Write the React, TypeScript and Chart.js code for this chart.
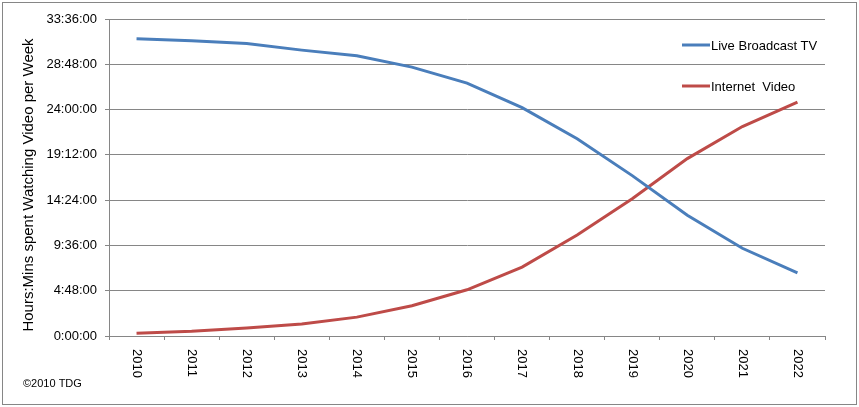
import * as React from 'react';
import { Chart, registerables } from 'chart.js';

Chart.register(...registerables);

const years = ['2010', '2011', '2012', '2013', '2014', '2015', '2016', '2017', '2018', '2019', '2020', '2021', '2022'];
// hours per week
const liveBroadcastTv = [31.5, 31.3, 31.0, 30.3, 29.7, 28.5, 26.8, 24.2, 20.9, 17.0, 12.8, 9.3, 6.7];
const internetVideo = [0.3, 0.5, 0.85, 1.27, 2.0, 3.2, 4.9, 7.3, 10.7, 14.55, 18.8, 22.2, 24.8];
const yTickValues = [0, 4.8, 9.6, 14.4, 19.2, 24, 28.8, 33.6];
const yTickLabels = ['0:00:00', '4:48:00', '9:36:00', '14:24:00', '19:12:00', '24:00:00', '28:48:00', '33:36:00'];
const yTitle = 'Hours:Mins spent Watching Video per Week';
const credit = '\u00a92010 TDG';

const FONT = '"Liberation Sans", Arial, sans-serif';
const GRID = '#868686';

const extras = {
    id: 'extras',
    afterDraw(chart: any) {
        const ctx = chart.ctx as CanvasRenderingContext2D;
        const xScale = chart.scales.x;
        ctx.save();
        // outer frame
        ctx.strokeStyle = GRID;
        ctx.lineWidth = 1;
        ctx.strokeRect(2.5, 2.5, 854, 402);

        // rotated year labels (reading top to bottom)
        ctx.fillStyle = '#000';
        ctx.font = `13px ${FONT}`;
        ctx.textAlign = 'left';
        ctx.textBaseline = 'middle';
        years.forEach((y, i) => {
            const x = xScale.getPixelForValue(i);
            ctx.save();
            ctx.translate(x, 349);
            ctx.rotate(Math.PI / 2);
            ctx.fillText(y, 0, 0);
            ctx.restore();
        });

        // y axis title
        ctx.save();
        ctx.font = `15px ${FONT}`;
        ctx.textAlign = 'center';
        ctx.translate(29, 185);
        ctx.rotate(-Math.PI / 2);
        ctx.fillText(yTitle, 0, 0);
        ctx.restore();

        // legend
        ctx.font = `13px ${FONT}`;
        chart.data.datasets.forEach((ds: any, i: number) => {
            const ly = 45 + i * 41;
            ctx.strokeStyle = ds.borderColor;
            ctx.lineWidth = 3;
            ctx.beginPath();
            ctx.moveTo(682, ly);
            ctx.lineTo(710, ly);
            ctx.stroke();
            ctx.fillStyle = '#000';
            ctx.textAlign = 'left';
            ctx.fillText(ds.label, 711, ly + 1);
        });

        // credit
        ctx.font = `11px ${FONT}`;
        ctx.fillText(credit, 23, 384);
        ctx.restore();
    }
};

export default function App() {
    const canvasRef = React.useRef<HTMLCanvasElement>(null);

    React.useEffect(() => {
        if (!canvasRef.current) return;
        const chart = new Chart(canvasRef.current, {
            type: 'line',
            data: {
                labels: years,
                datasets: [
                    {
                        label: 'Live Broadcast TV',
                        data: liveBroadcastTv,
                        borderColor: '#4A7EBB',
                        borderWidth: 3,
                        pointRadius: 0,
                        tension: 0
                    },
                    {
                        label: 'Internet  Video',
                        data: internetVideo,
                        borderColor: '#BE4B48',
                        borderWidth: 3,
                        pointRadius: 0,
                        tension: 0
                    }
                ]
            },
            options: {
                animation: false,
                responsive: false,
                layout: { padding: { left: 0, top: 19, right: 34, bottom: 0 } },
                plugins: {
                    legend: { display: false },
                    tooltip: { enabled: false }
                },
                scales: {
                    x: {
                        offset: true,
                        grid: { offset: true, drawOnChartArea: false, drawTicks: true, tickLength: 4, color: GRID },
                        border: { color: GRID },
                        ticks: { display: false },
                        afterFit: (s: any) => { s.height = 71; }
                    },
                    y: {
                        min: 0,
                        max: 33.6,
                        afterBuildTicks: (s: any) => { s.ticks = yTickValues.map(v => ({ value: v })); },
                        afterFit: (s: any) => { s.width = 109; },
                        grid: { color: GRID, tickLength: 4 },
                        border: { color: GRID },
                        ticks: {
                            padding: 8,
                            color: '#000',
                            font: { family: FONT, size: 13 },
                            callback: (_v: any, i: number) => yTickLabels[i]
                        }
                    }
                }
            },
            plugins: [extras]
        });
        return () => chart.destroy();
    }, []);

    return (
        <div style={{ position: 'absolute', left: 0, top: 0, width: 859, height: 407, background: '#fff' }}>
            <canvas ref={canvasRef} width={859} height={407}></canvas>
        </div>
    );
}
